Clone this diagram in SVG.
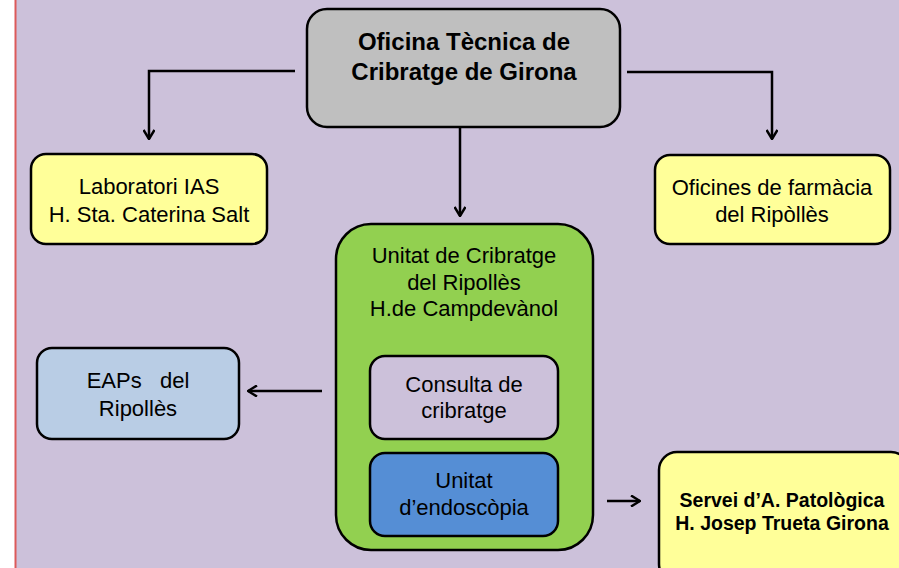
<svg xmlns="http://www.w3.org/2000/svg" width="899" height="568" viewBox="0 0 899 568">
<style>
.box{stroke:#000;stroke-width:2.5}
.t{font-family:"Liberation Sans",Arial,sans-serif;font-size:22px;fill:#000;text-anchor:middle}
.h{font-weight:bold;font-size:24px}
.s{font-weight:bold;font-size:19.5px}
.c{fill:none;stroke:#000;stroke-width:2.5}
</style>
<defs>
<marker id="ah" viewBox="0 0 12 12" refX="11" refY="6" markerWidth="12" markerHeight="12" orient="auto" markerUnits="userSpaceOnUse">
<path d="M2,0.5 L11,6 L2,11.5" fill="none" stroke="#000" stroke-width="2.5"/>
</marker>
</defs>
<rect x="0" y="0" width="899" height="568" fill="#fff"/>
<rect x="16" y="0" width="883" height="568" fill="#CCC1DA"/>
<line x1="15.5" y1="0" x2="15.5" y2="568" stroke="#DC5A5A" stroke-width="2"/>
<g id="connectors">
<path class="c" d="M295,71 H149 V139" marker-end="url(#ah)"/>
<path class="c" d="M627,72 H772 V139" marker-end="url(#ah)"/>
<path class="c" d="M460,127 V216" marker-end="url(#ah)"/>
<path class="c" d="M322,391 H248" marker-end="url(#ah)"/>
<path class="c" d="M607,501 H640" marker-end="url(#ah)"/>
</g>
<g id="oficina">
<rect class="box" x="307" y="9" width="313" height="118" rx="20" fill="#BFBFBF"/>
<text class="t h" x="464" y="50">Oficina Tècnica de</text>
<text class="t h" x="464" y="80">Cribratge de Girona</text>
</g>
<g id="laboratori">
<rect class="box" x="31" y="154" width="236" height="90" rx="15" fill="#FFFF99"/>
<text class="t" x="149" y="194">Laboratori IAS</text>
<text class="t" x="149" y="222">H. Sta. Caterina Salt</text>
</g>
<g id="oficines">
<rect class="box" x="655" y="155" width="235" height="89" rx="15" fill="#FFFF99"/>
<text class="t" x="772" y="195">Oficines de farmàcia</text>
<text class="t" x="772" y="222">del Ripòllès</text>
</g>
<g id="unitat-cribratge">
<rect class="box" x="336" y="224" width="257" height="326" rx="35" fill="#92D050"/>
<text class="t" x="464" y="263">Unitat de Cribratge</text>
<text class="t" x="464" y="290">del Ripollès</text>
<text class="t" x="464" y="316">H.de Campdevànol</text>
</g>
<g id="consulta">
<rect class="box" x="370" y="356" width="188" height="83" rx="15" fill="#CCC1DA"/>
<text class="t" x="464" y="392">Consulta de</text>
<text class="t" x="464" y="418">cribratge</text>
</g>
<g id="endoscopia">
<rect class="box" x="370" y="453" width="188" height="83" rx="15" fill="#558ED5"/>
<text class="t" x="464" y="488">Unitat</text>
<text class="t" x="464" y="515">d’endoscòpia</text>
</g>
<g id="eaps">
<rect class="box" x="37" y="348" width="202" height="91" rx="15" fill="#B9CDE5"/>
<text class="t" x="138" y="388" xml:space="preserve">EAPs   del</text>
<text class="t" x="138" y="416">Ripollès</text>
</g>
<g id="servei">
<rect class="box" x="659" y="452" width="250" height="130" rx="18" fill="#FFFF99"/>
<text class="t s" x="782" y="507">Servei d’A. Patològica</text>
<text class="t s" x="782" y="530">H. Josep Trueta Girona</text>
</g>
</svg>
